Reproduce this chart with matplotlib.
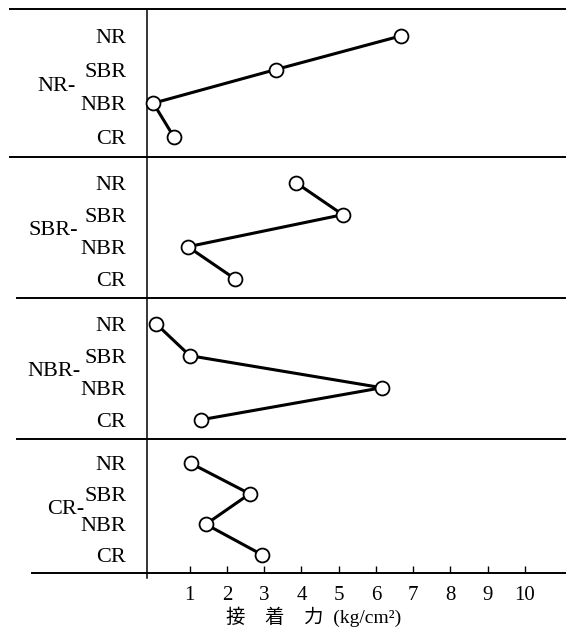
import matplotlib
matplotlib.use("Agg")
import matplotlib.pyplot as plt

# adhesion strength (kg/cm^2) of each adherend rubber, grouped by the base rubber
GROUPS = ["NR-", "SBR-", "NBR-", "CR-"]
RUBBERS = ["NR", "SBR", "NBR", "CR"]
VALUES = [
    [6.67, 3.31, 0.02, 0.57],   # NR-
    [3.85, 5.11, 0.95, 2.21],   # SBR-
    [0.09, 1.00, 6.16, 1.30],   # NBR-
    [1.03, 2.61, 1.43, 2.94],   # CR-
]
XTICKS = list(range(1, 11))
XLABEL = "接\u3000着\u3000力  (kg/cm²)"

SERIF = ["Liberation Serif", "DejaVu Serif"]
plt.rcParams.update({"font.family": SERIF, "font.size": 16})

W, H = 571, 633
fig = plt.figure(figsize=(W / 100, H / 100), dpi=100)

# panel edges in pixels from the top of the picture
EDGES = [9, 157, 298, 439, 573]
LEFT, RIGHT = 147, 565
SEP_START = [10, 10, 17, 17]   # where each separator line begins on the left
GROUP_RIGHT = [76, 78, 80, 84]  # right edge of the group names

axes = []
for i in range(4):
    top, bot = EDGES[i], EDGES[i + 1]
    ax = fig.add_axes([LEFT / W, 1 - bot / H, (RIGHT - LEFT) / W, (bot - top) / H])
    axes.append(ax)
    ax.plot(VALUES[i], range(len(RUBBERS)), "-o", color="black", lw=2.2,
            ms=10, mfc="white", mec="black", mew=1.3, zorder=3, clip_on=False)
    ax.set_xlim(-0.15, 11.08)
    ax.set_ylim(3.6, -0.8)
    ax.set_yticks(range(len(RUBBERS)))
    ax.set_yticklabels(RUBBERS)
    ax.tick_params(axis="y", length=0, pad=15)
    for s in ["top", "right", "bottom"]:
        ax.spines[s].set_visible(False)
    ax.spines["left"].set_linewidth(1.1)
    # separator line above each panel, reaching out past the labels
    x0 = (SEP_START[i] - LEFT) / (RIGHT - LEFT)
    ax.plot([x0, 1], [1, 1], transform=ax.transAxes, color="black", lw=1.4,
            clip_on=False)
    ax.text((GROUP_RIGHT[i] - LEFT) / (RIGHT - LEFT), 1.5, GROUPS[i], ha="right",
            va="center", fontsize=16, transform=ax.get_yaxis_transform())
    if i < 3:
        ax.set_xticks([])

ax = axes[-1]
x0 = (32 - LEFT) / (RIGHT - LEFT)
ax.plot([x0, 1], [0, 0], transform=ax.transAxes, color="black", lw=1.4, clip_on=False)
ax.plot([0, 0], [0, -5 / (EDGES[4] - EDGES[3])], transform=ax.transAxes,
        color="black", lw=1.1, clip_on=False)
ax.set_xticks(XTICKS)
ax.set_xticklabels([str(t) for t in XTICKS])
ax.tick_params(axis="x", direction="in", length=5, width=1, pad=9, labelsize=15)
ax.set_xlabel(XLABEL, fontsize=14, family=["Liberation Serif", "Noto Sans CJK JP"],
              va="center")
ax.xaxis.set_label_coords((314 - LEFT) / (RIGHT - LEFT), -(617 - 573) / (573 - 439))

fig.savefig("out.png", dpi=100)
